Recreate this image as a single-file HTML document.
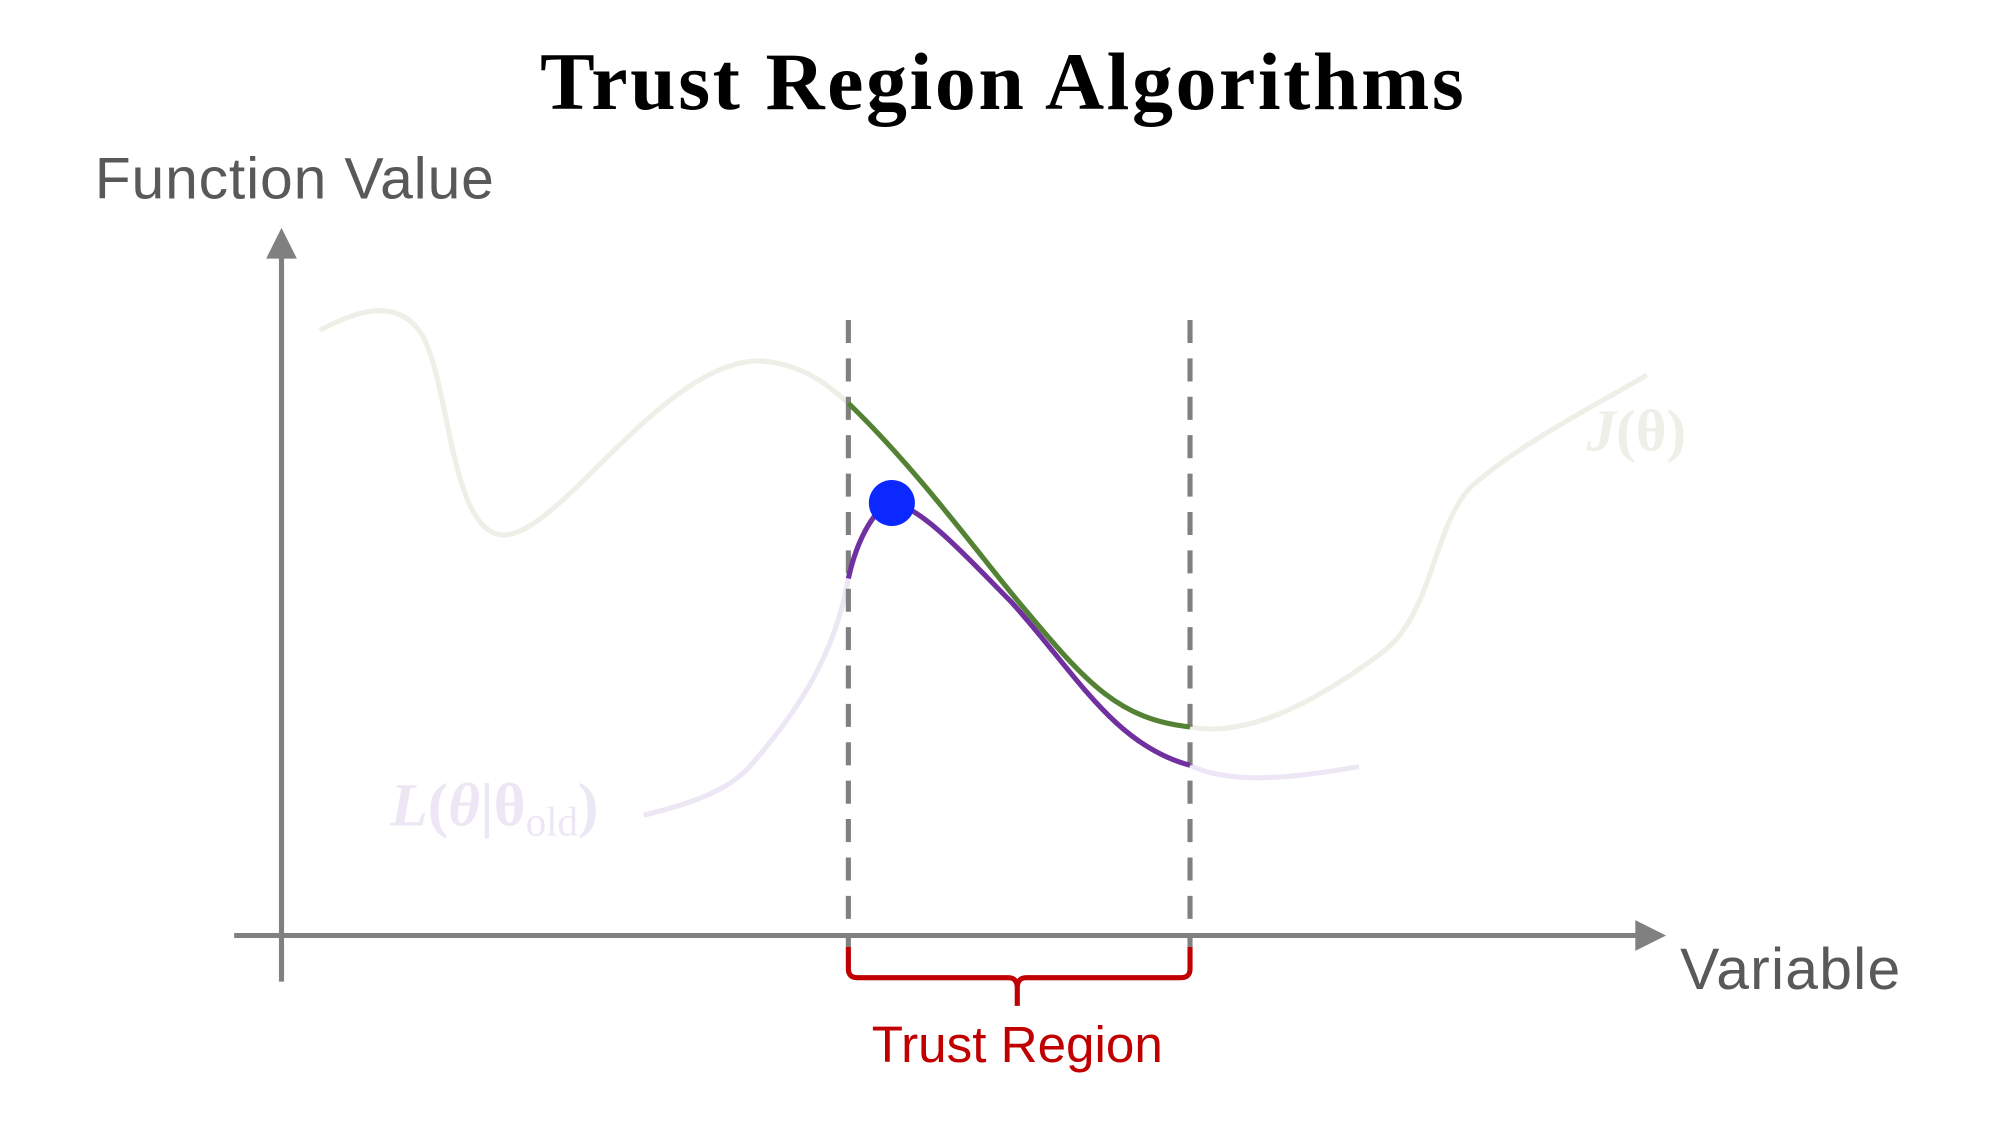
<!DOCTYPE html>
<html><head><meta charset="utf-8"><style>
html,body{margin:0;padding:0;background:#fff;}
svg{display:block;}
</style></head><body>
<svg width="2000" height="1125" viewBox="0 0 1563 879" xmlns="http://www.w3.org/2000/svg">
<rect width="1563" height="879" fill="#fff"/>
<text x="784" y="85" text-anchor="middle" font-family="Liberation Serif, serif" font-weight="bold" font-size="64" letter-spacing="2" fill="#000">Trust Region Algorithms</text>
<text x="74" y="155" font-family="Liberation Sans, sans-serif" font-size="46" fill="#595959" textLength="312">Function Value</text>
<text x="1313" y="773" font-family="Liberation Sans, sans-serif" font-size="46" fill="#595959" textLength="172">Variable</text>
<text x="795" y="830" text-anchor="middle" font-family="Liberation Sans, sans-serif" font-size="40" fill="#C00000">Trust Region</text>
<!-- axes -->
<line x1="220" y1="767" x2="220" y2="198" stroke="#808080" stroke-width="4"/>
<polygon points="220,178 208,202 232,202" fill="#808080"/>
<line x1="183" y1="731" x2="1282" y2="731" stroke="#808080" stroke-width="4"/>
<polygon points="1302,731 1278,719 1278,743" fill="#808080"/>
<!-- J curve -->
<path d="M250,258 C280,242 312,232 330,262 C352,300 352,420 395,418 C440,415 520,280 595,282 C628,284 650,303 663,315" fill="none" stroke="#EEF0E8" stroke-width="4"/>
<path d="M930,568 C980,578 1040,540 1080,510 C1120,480 1120,410 1150,380 C1190,345 1250,315 1287,293" fill="none" stroke="#EEF0E8" stroke-width="4"/>
<!-- L light -->
<path d="M503,637 C540,628 568,618 585,600 C620,560 652,515 663,452" fill="none" stroke="#EDE7F5" stroke-width="4"/>
<path d="M930,598 C965,615 1020,606 1062,599" fill="none" stroke="#EDE7F5" stroke-width="4"/>
<!-- dashed -->
<line x1="663" y1="250" x2="663" y2="740" stroke="#808080" stroke-width="4" stroke-dasharray="18,12"/>
<line x1="930" y1="250" x2="930" y2="740" stroke="#808080" stroke-width="4" stroke-dasharray="18,12"/>
<!-- green -->
<path d="M663,315 C720,370 770,440 800,475 C850,535 875,562 930,568" fill="none" stroke="#548235" stroke-width="4"/>
<!-- purple -->
<path d="M663,452 C670,420 685,395 697,393 C720,395 760,440 790,470 C840,525 870,582 930,598" fill="none" stroke="#7030A0" stroke-width="4"/>
<circle cx="697" cy="393" r="18" fill="#0A28FF"/>
<!-- labels -->
<text x="1240" y="352" font-family="Liberation Serif, serif" font-weight="bold" font-size="46" fill="#EEF0E8"><tspan font-style="italic">J</tspan>(θ)</text>
<text x="305" y="645" font-family="Liberation Serif, serif" font-weight="bold" font-size="48" fill="#EDE7F5"><tspan font-style="italic">L</tspan>(<tspan font-style="italic">θ</tspan>|θ<tspan font-size="32" dy="8" font-weight="normal">old</tspan><tspan dy="-8">)</tspan></text>
<!-- brace -->
<path d="M663,740 L663,757 Q663,764 670,764 L788,764 Q795,764 795,772 L795,786 M795,772 Q795,764 802,764 L923,764 Q930,764 930,757 L930,740" fill="none" stroke="#C00000" stroke-width="4"/>
</svg>
</body></html>
